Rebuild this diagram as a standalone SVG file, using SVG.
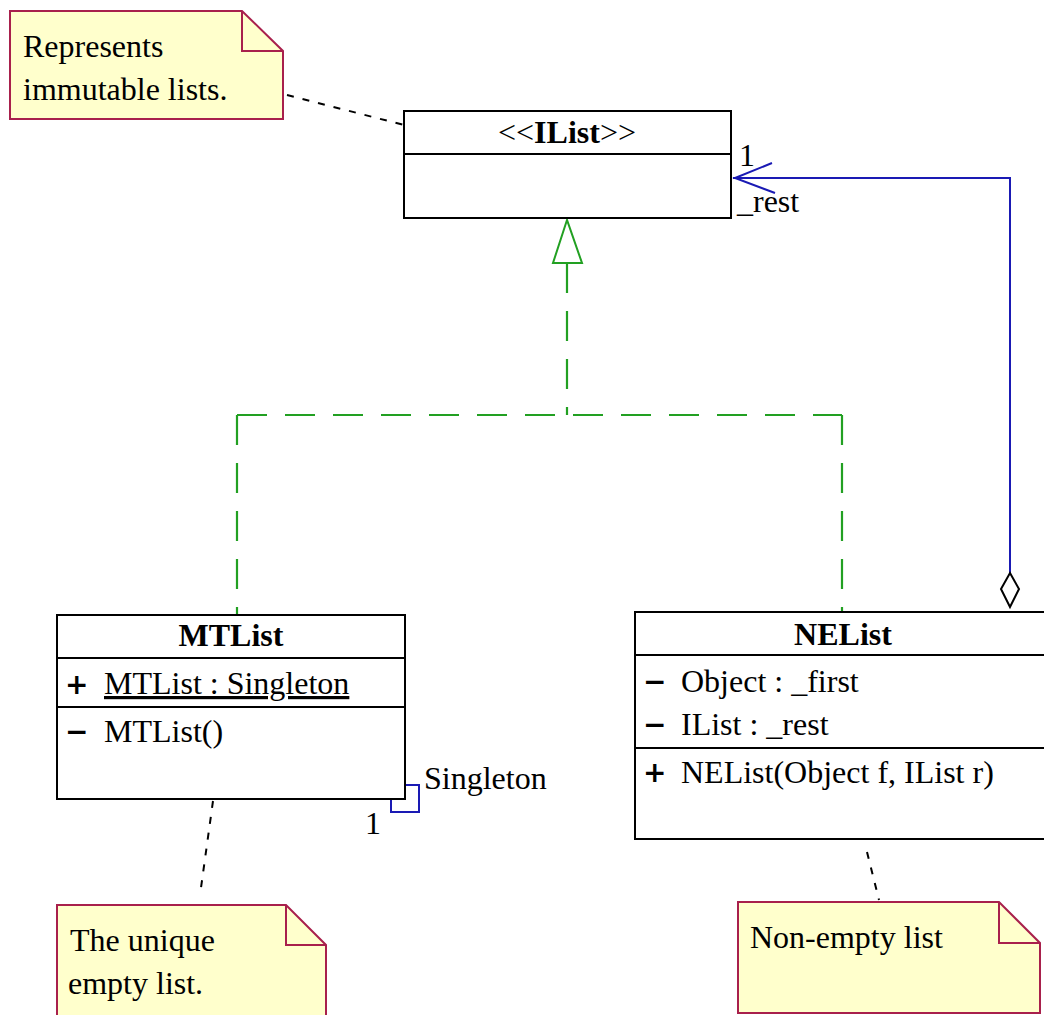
<svg xmlns="http://www.w3.org/2000/svg" width="1044" height="1015" viewBox="0 0 1044 1015">
<style>
text{font-family:"Liberation Serif","Times New Roman",serif;font-size:32px;fill:#000}
.b{font-weight:bold}
.cls{fill:#fff;stroke:#000;stroke-width:2}
.div{stroke:#000;stroke-width:2}
.note{fill:#ffffcc;stroke:#a8204c;stroke-width:2}
.fold{fill:none;stroke:#a8204c;stroke-width:2}
.anchor{fill:none;stroke:#000;stroke-width:2;stroke-dasharray:7 9}
.real{fill:none;stroke:#22a022;stroke-width:2.2;stroke-dasharray:30 18}
.assoc{fill:none;stroke:#1a1ab4;stroke-width:2}
.vis{font-weight:bold;font-family:"DejaVu Sans","Liberation Sans",sans-serif;font-size:28px}
</style>
<g id="connectors">
  <path class="anchor" d="M287 95 L404 125"/>
  <path class="anchor" d="M213 801 L200 895"/>
  <path class="anchor" d="M867 852 L879 900"/>
  <path class="real" d="M567 263 L567 415 M237 415 L842 415 M237 415 L237 615 M842 415 L842 612"/>
  <path d="M567 220 L553 263 L582 263 Z" fill="#fff" stroke="#22a022" stroke-width="2"/>
  <path class="assoc" d="M1010 580 L1010 178 L733 178"/>
  <path class="assoc" d="M772 163 L735 178 L775 193"/>
  <path d="M1010 573 L1019 589 L1010 607 L1001 589 Z" fill="#fff" stroke="#000" stroke-width="2"/>
  <path class="assoc" d="M405 785 L419 785 L419 812 L391 812 L391 799"/>
  <text x="739" y="166" font-size="28">1</text>
  <text x="737" y="212" font-size="28">_rest</text>
  <text x="424" y="789" font-size="29">Singleton</text>
  <text x="365" y="834" font-size="29">1</text>
</g>
<g id="note-immutable">
  <path class="note" d="M10 11 L242 11 L283 51 L283 119 L10 119 Z"/>
  <path class="fold" d="M242 11 L242 51 L283 51"/>
  <text x="23" y="57">Represents</text>
  <text x="23" y="100">immutable lists.</text>
</g>
<g id="IList">
  <rect class="cls" x="404" y="111" width="327" height="107"/>
  <line class="div" x1="404" y1="154" x2="731" y2="154"/>
  <text x="567" y="143" text-anchor="middle" font-size="29">&lt;&lt;<tspan class="b">IList</tspan>&gt;&gt;</text>
</g>
<g id="MTList">
  <rect class="cls" x="57" y="615" width="348" height="184"/>
  <line class="div" x1="57" y1="658" x2="405" y2="658"/>
  <line class="div" x1="57" y1="707" x2="405" y2="707"/>
  <text x="231" y="646" text-anchor="middle" class="b">MTList</text>
  <text x="65" y="694" class="vis">+</text>
  <text x="104" y="694" text-decoration="underline">MTList : Singleton</text>
  <text x="65" y="741" class="vis">−</text>
  <text x="104" y="742">MTList()</text>
</g>
<g id="NEList">
  <rect class="cls" x="635" y="612" width="420" height="227"/>
  <line class="div" x1="635" y1="655" x2="1044" y2="655"/>
  <line class="div" x1="635" y1="748" x2="1044" y2="748"/>
  <text x="843" y="645" text-anchor="middle" class="b">NEList</text>
  <text x="643" y="691" class="vis">−</text>
  <text x="681" y="692">Object : _first</text>
  <text x="643" y="734" class="vis">−</text>
  <text x="681" y="735">IList : _rest</text>
  <text x="643" y="782" class="vis">+</text>
  <text x="681" y="783">NEList(Object f, IList r)</text>
</g>
<g id="note-unique">
  <path class="note" d="M57 905 L286 905 L326 945 L326 1020 L57 1020 Z"/>
  <path class="fold" d="M286 905 L286 945 L326 945"/>
  <text x="70" y="951">The unique</text>
  <text x="68" y="994">empty list.</text>
</g>
<g id="note-nonempty">
  <path class="note" d="M738 902 L999 902 L1040 943 L1040 1013 L738 1013 Z"/>
  <path class="fold" d="M999 902 L999 943 L1040 943"/>
  <text x="750" y="948">Non-empty list</text>
</g>
</svg>
